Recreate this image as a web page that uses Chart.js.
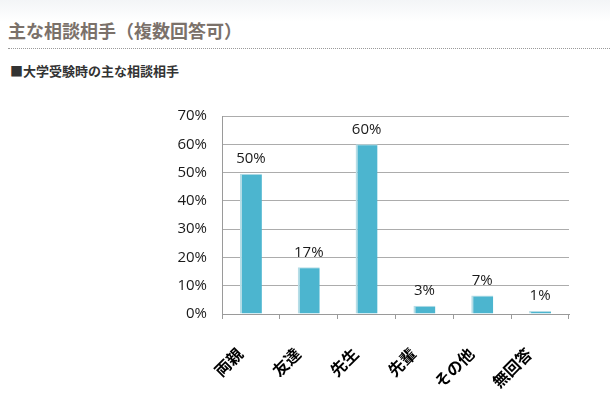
<!DOCTYPE html>
<html>
<head>
<meta charset="utf-8">
<script src="https://cdn.jsdelivr.net/npm/chart.js@4"></script>
<style>
  html, body { margin: 0; padding: 0; }
  body {
    width: 610px; height: 400px; overflow: hidden; position: relative;
    background: linear-gradient(#f3f5f7 0px, #ffffff 22px);
    font-family: "Noto Sans CJK JP", sans-serif;
  }
  #wrap { position: absolute; left: 0; top: 0; width: 610px; height: 400px; }
  h2 {
    position: absolute; left: 8px; top: 18px; right: 0; margin: 0;
    font-size: 18px; line-height: 24px; font-weight: bold; color: #7b716a;
    padding-bottom: 6px; border-bottom: 1px dotted #9a9a9a;
  }
  h3 {
    position: absolute; left: 10px; top: 62px; margin: 0;
    font-size: 13px; line-height: 18px; font-weight: bold; color: #333;
  }
</style>
</head>
<body>
<h2>主な相談相手（複数回答可）</h2>
<h3>■大学受験時の主な相談相手</h3>
<div id="wrap"><canvas id="myChart"></canvas></div>
<script>
var categories = ['両親', '友達', '先生', '先輩', 'その他', '無回答'];
var values = [49.6, 16.5, 60, 2.9, 6.5, 1.1];
var yTicks = [0, 10, 20, 30, 40, 50, 60, 70];

// value labels above the bars
var barLabels = {
    id: 'barLabels',
    afterDatasetsDraw: function(chart) {
        var c = chart.ctx;
        var meta = chart.getDatasetMeta(0);
        c.save();
        c.font = '15px "Open Sans"';
        c.fillStyle = '#1a1a1a';
        c.textAlign = 'center';
        c.textBaseline = 'middle';
        meta.data.forEach(function(bar, i) {
            c.fillText(Math.round(values[i]) + '%', bar.x, bar.y - 15);
        });
        c.restore();
    }
};

var ctx = document.getElementById('myChart').getContext('2d');
var myChart = new Chart(ctx, {
    type: 'bar',
    data: {
        labels: categories,
        datasets: [{
            data: values,
            backgroundColor: '#4cb5cf',
            borderColor: '#b7dde6',
            borderWidth: { left: 2, top: 1, right: 0, bottom: 0 },
            borderSkipped: false,
            barPercentage: 0.76,
            categoryPercentage: 0.5
        }]
    },
    options: {
        responsive: true,
        maintainAspectRatio: false,
        animation: false,
        layout: { padding: { top: 116, right: 41, left: 0, bottom: 0 } },
        plugins: { legend: { display: false }, tooltip: { enabled: false } },
        scales: {
            x: {
                grid: { drawOnChartArea: false, drawTicks: true, tickLength: 5, color: '#9a9a9a' },
                border: { color: '#9a9a9a' },
                ticks: {
                    autoSkip: false, minRotation: 45, maxRotation: 45,
                    labelOffset: -11, padding: 25,
                    color: '#000',
                    font: { family: '"Noto Sans CJK JP"', size: 16, weight: 'bold' }
                },
                afterFit: function(scale) { scale.height = 86; }
            },
            y: {
                min: 0, max: 70,
                grid: { color: '#acacac', drawTicks: false },
                border: { color: '#9a9a9a' },
                afterBuildTicks: function(scale) {
                    scale.ticks = yTicks.map(function(v) { return { value: v }; });
                },
                ticks: {
                    padding: 15, color: '#1a1a1a',
                    font: { family: '"Open Sans"', size: 15 },
                    callback: function(v) { return v + '%'; }
                },
                afterFit: function(scale) { scale.width = 222; }
            }
        }
    },
    plugins: [barLabels]
});
</script>
</body>
</html>
